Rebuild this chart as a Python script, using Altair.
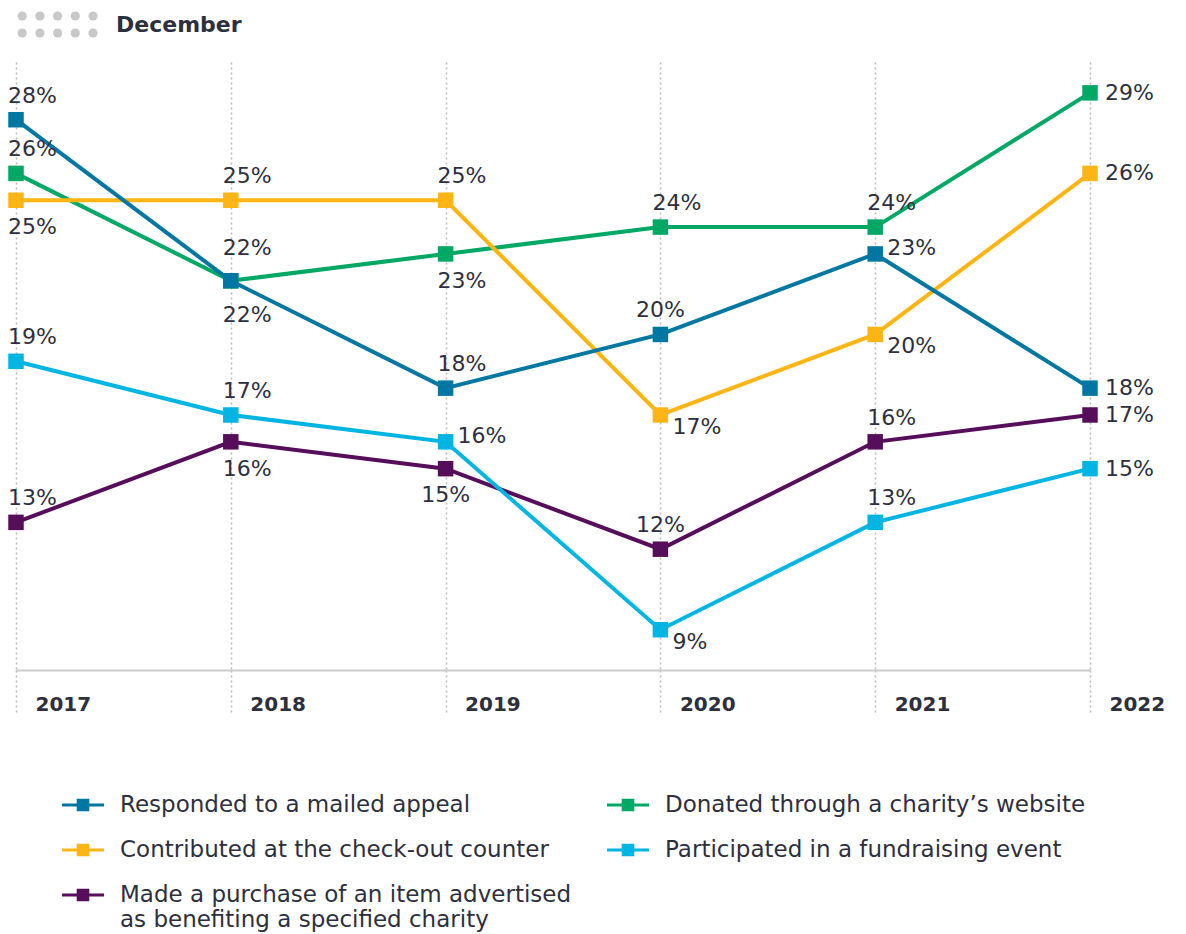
import altair as alt
import pandas as pd

# ---------------- data ----------------
years = [2017, 2018, 2019, 2020, 2021, 2022]

series_names = [
    "Responded to a mailed appeal",
    "Donated through a charity’s website",
    "Contributed at the check-out counter",
    "Participated in a fundraising event",
    "Made a purchase of an item advertised as benefiting a specified charity",
]
mailed = [28, 22, 18, 20, 23, 18]
website = [26, 22, 23, 24, 24, 29]
checkout = [25, 25, 25, 17, 20, 26]
event = [19, 17, 16, 9, 13, 15]
purchase = [13, 16, 15, 12, 16, 17]

# where each value label sits relative to its marker
mailed_pos = ["a", "b2", "a", "ac", "r_up", "r"]
website_pos = ["a", "a2", "b", "a", "a", "r"]
checkout_pos = ["b", "a", "a", "br", "br", "r"]
event_pos = ["a", "a", "r_up", "br", "a", "r"]
purchase_pos = ["a", "b", "bc", "ac", "a", "r"]

colors = ["#0077a2", "#00a865", "#fdb515", "#00b5e2", "#560e5b"]

header_cols = [0, 1, 2, 3, 4]
header_rows = [0, 1]
header_title = ["December"]

# ---------------- styles ----------------
FONT = "DejaVu Sans"
TEXT = "#2e2f3d"
PLACE = {
    "a": (-8, -24, "left"),
    "a2": (-8, -33, "left"),
    "ac": (0, -24, "center"),
    "b": (-8, 27, "left"),
    "b2": (-8, 34, "left"),
    "bc": (0, 26, "center"),
    "r": (15, 0, "left"),
    "r_up": (12, -6, "left"),
    "br": (12, 12, "left"),
}

# draw order: green, purple, light blue, yellow, dark blue (top)
draw = [
    (series_names[1], website, website_pos),
    (series_names[4], purchase, purchase_pos),
    (series_names[3], event, event_pos),
    (series_names[2], checkout, checkout_pos),
    (series_names[0], mailed, mailed_pos),
]
rows = []
for name, vals, poss in draw:
    for yr, v, p in zip(years, vals, poss):
        rows.append({"series": name, "year": yr, "value": v, "pos": p, "label": f"{v}%"})
df = pd.DataFrame(rows)

xenc = alt.X(
    "year:Q",
    scale=alt.Scale(domain=[years[0], years[-1]], nice=False, zero=False),
    axis=alt.Axis(
        values=years, format="d", title=None,
        grid=True, gridColor="#b8b8b8", gridDash=[2, 3], gridWidth=1.5,
        ticks=True, tickSize=45, tickColor="#b8b8b8", tickDash=[2, 3], tickWidth=1.5,
        domain=True, domainColor="#cccccc", domainWidth=2,
        labelFont=FONT, labelFontSize=20, labelFontWeight="bold", labelColor=TEXT,
        labelAlign="left", labelBaseline="middle", labelOffset=19, labelPadding=-11,
    ),
)
yenc = alt.Y("value:Q", scale=alt.Scale(domain=[7.5, 30.15], nice=False, zero=False), axis=None)
cscale = alt.Scale(domain=series_names, range=colors)

legend = alt.Legend(
    title=None, orient="none", legendX=46, legendY=768, direction="horizontal",
    columns=2, columnPadding=35, rowPadding=12, gridAlign="each",
    symbolType="M-1,-0.07H1V0.07H-1Z M-0.3,-0.3H0.3V0.3H-0.3Z",
    symbolSize=1764, symbolStrokeWidth=0, symbolOpacity=1,
    labelFont=FONT, labelFontSize=23, labelColor=TEXT, labelLimit=800, labelOffset=16,
    labelExpr="datum.label == 'Made a purchase of an item advertised as benefiting a specified charity' ? ['Made a purchase of an item advertised', 'as benefiting a specified charity'] : datum.label",
)

base = alt.Chart(df)

lines = base.mark_line(strokeWidth=4).encode(
    x=xenc, y=yenc,
    color=alt.Color("series:N", scale=cscale, legend=legend),
    detail="series:N",
)

points = base.mark_point(shape="square", filled=True, size=240, opacity=1).encode(
    x=xenc, y=yenc,
    color=alt.Color("series:N", scale=cscale, legend=legend),
)

texts = []
for code, (dx, dy, align) in PLACE.items():
    texts.append(
        base.transform_filter(alt.datum.pos == code)
        .mark_text(dx=dx, dy=dy, align=align, baseline="middle", font=FONT, fontSize=22, color=TEXT)
        .encode(x=xenc, y=yenc, text="label:N")
    )

main = alt.layer(lines, points, *texts).properties(width=1074, height=608)

# header: dot grid + "December"
hdr = pd.DataFrame([{"c": c, "r": r} for r in header_rows for c in header_cols])
dots = alt.Chart(hdr).mark_circle(size=85, color="#c8c8c8", opacity=1).encode(
    x=alt.X("c:Q", scale=alt.Scale(domain=[-0.35, 4], nice=False, zero=False), axis=None),
    y=alt.Y("r:Q", scale=alt.Scale(domain=[1, 0], nice=False, zero=False), axis=None),
)
htext = alt.Chart(pd.DataFrame({"t": header_title})).mark_text(
    align="left", baseline="middle", font=FONT, fontSize=22, fontWeight="bold", color=TEXT
).encode(
    x=alt.datum(5.3), y=alt.datum(0.5), text="t:N"
)
header = alt.layer(dots, htext).properties(width=77, height=17)

chart = alt.vconcat(header, main, spacing=24).properties(
    padding={"left": 0, "top": 3, "right": 0, "bottom": 0}
).configure_view(stroke=None)

chart.save("out.html", embed_options={"renderer": "svg", "actions": False})
